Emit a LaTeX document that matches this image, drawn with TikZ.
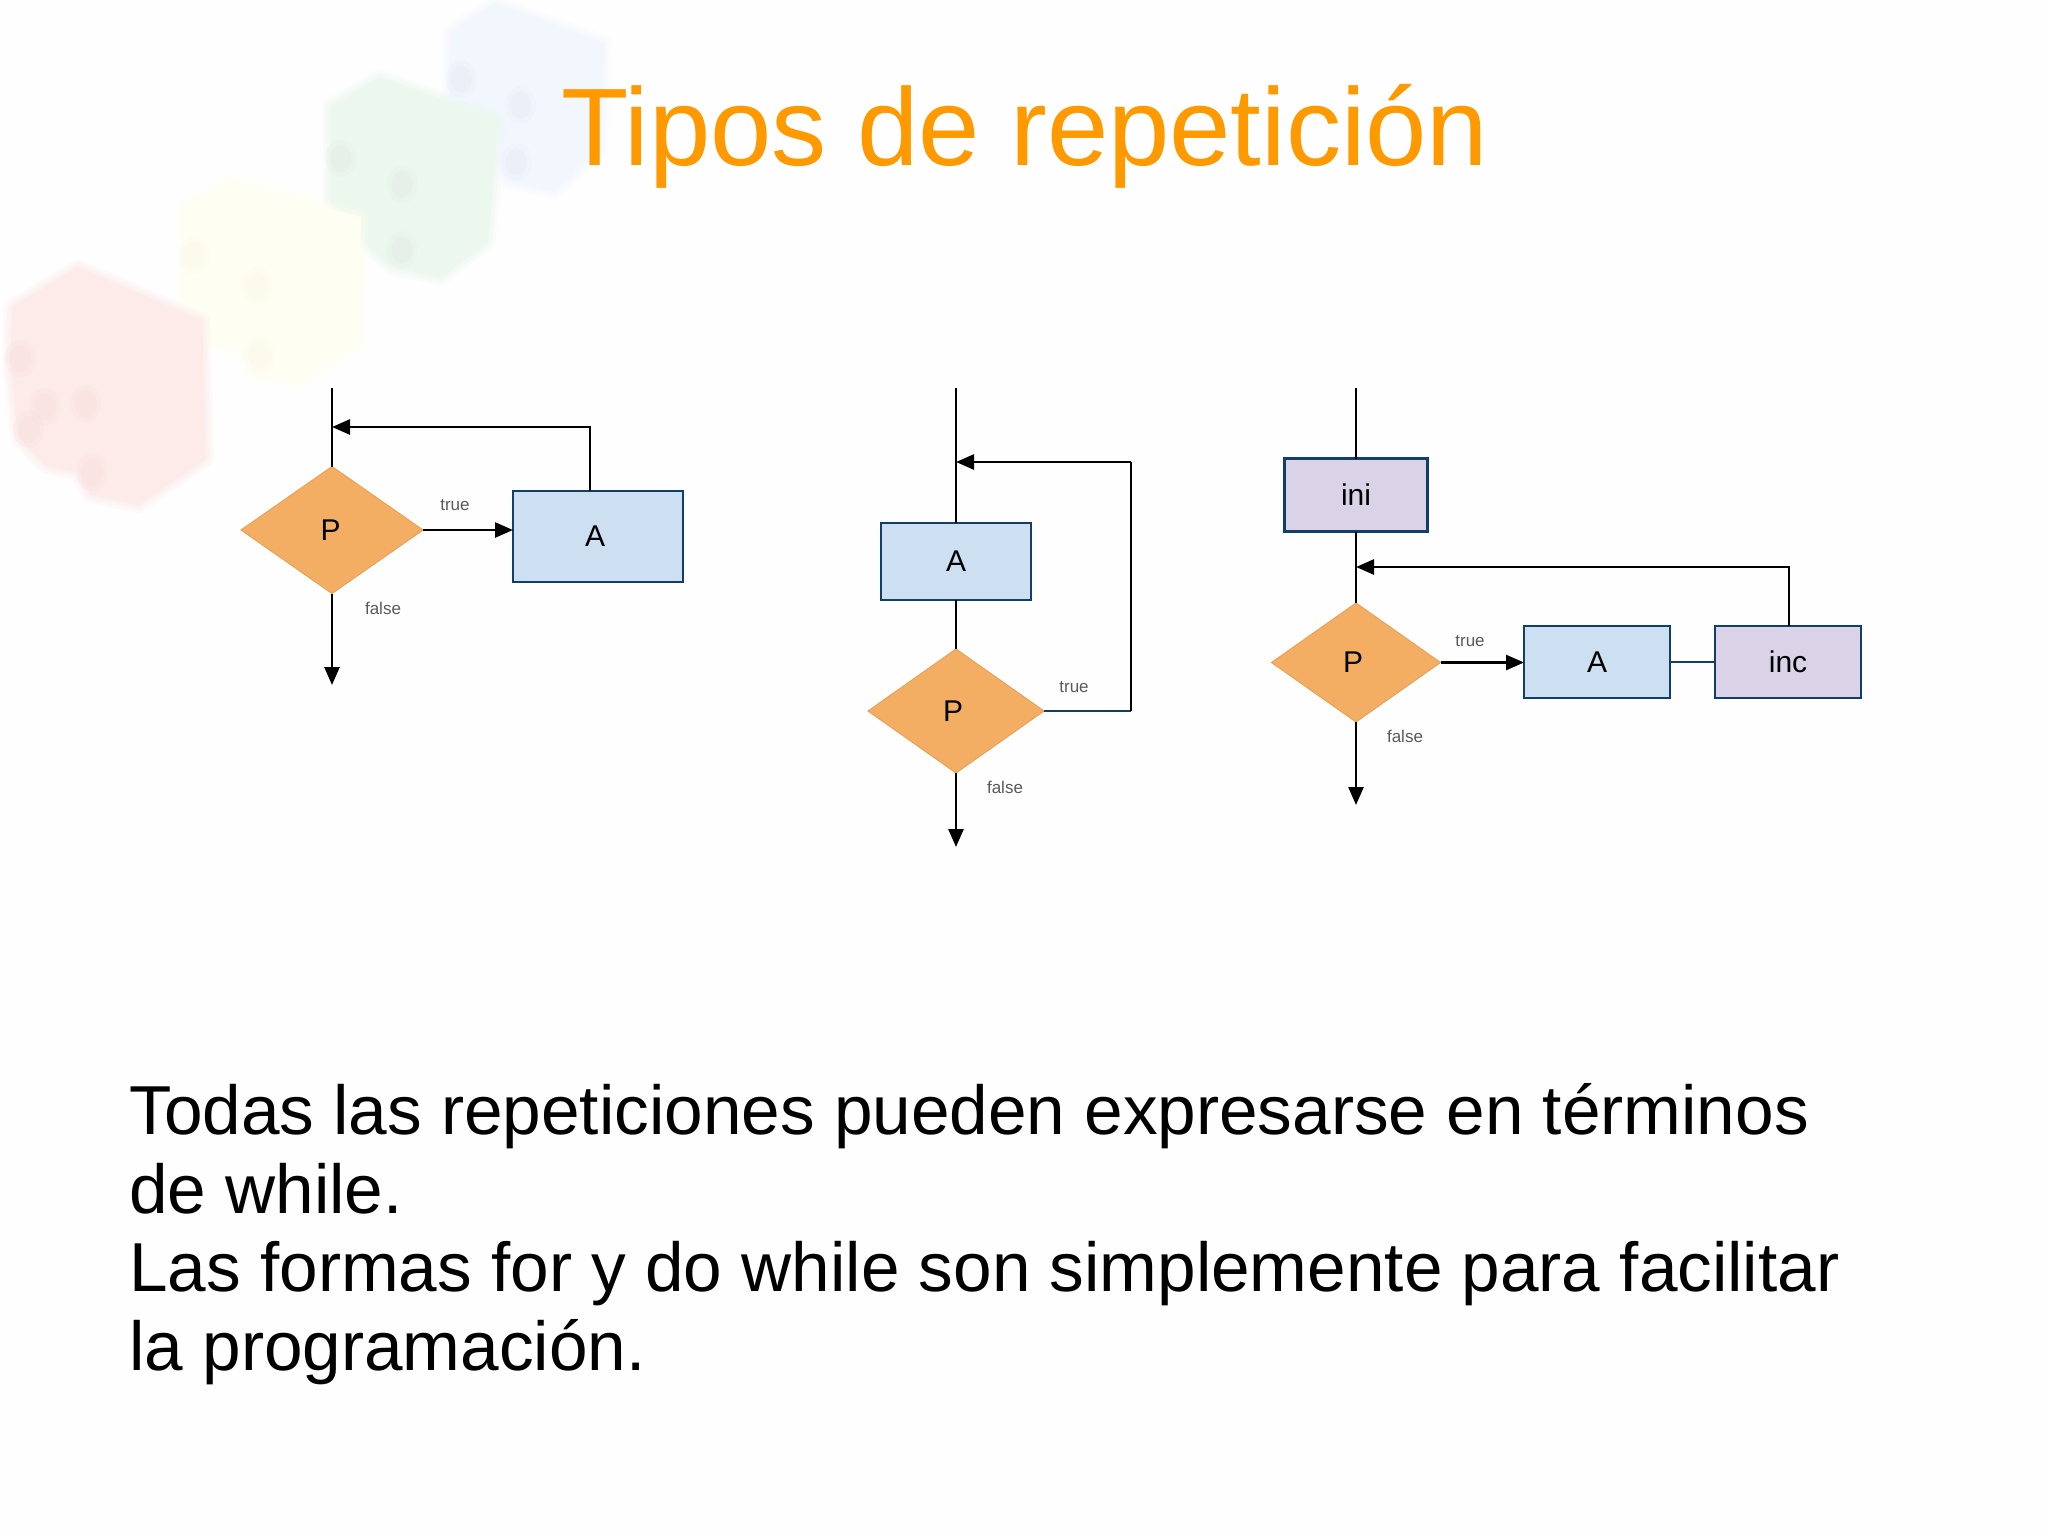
\documentclass[tikz,border=0pt]{standalone}
\usepackage{fontspec}
\setmainfont{Liberation Sans}
\usetikzlibrary{shapes.geometric,arrows.meta,calc}
\definecolor{pagebg}{HTML}{FEFEFE}
\definecolor{titleor}{HTML}{FF9900}
\definecolor{dfill}{HTML}{F4AE63}
\definecolor{dline}{HTML}{E9A257}
\definecolor{bfill}{HTML}{CDE0F2}
\definecolor{pfill}{HTML}{DAD2E6}
\definecolor{bline}{HTML}{123F68}
\definecolor{smallgr}{HTML}{5A5A5A}
\definecolor{redb}{HTML}{FCEBE9}\definecolor{reds}{HTML}{F7DFDE}
\definecolor{yelb}{HTML}{FFFEF2}\definecolor{yels}{HTML}{FAF8EA}
\definecolor{grnb}{HTML}{ECF7EE}\definecolor{grns}{HTML}{E2ECE5}
\definecolor{blub}{HTML}{F2F6FD}\definecolor{blus}{HTML}{E9EBF4}
\newcommand{\softpoly}[2]{%
  \foreach \lw in {8,5,3,1}{\draw[#1,line width=\lw pt,line join=round,opacity=.22] #2;}
  \fill[#1] #2;}
\newcommand{\studs}[2]{\foreach \sx/\sy in {#2}{\fill[#1,opacity=.4] (\sx,\sy) ellipse [x radius=26,y radius=40];\fill[#1,opacity=.25] (\sx,\sy) ellipse [x radius=38,y radius=54];}}
\tikzset{
  decis/.style={shape=diamond,draw=dline,fill=dfill,line width=.5pt,inner sep=0pt,outer sep=0pt,font=\fontsize{15}{15}\selectfont},
  abox/.style={shape=rectangle,draw=bline,fill=bfill,line width=1.4pt,inner sep=0pt,outer sep=0pt,font=\fontsize{15}{15}\selectfont},
  ibox/.style={abox,fill=pfill},
  flow/.style={draw=black,line width=1.3pt},
  flowtip/.style={flow,-{Triangle[length=9pt,width=7.5pt]}},
  plainlink/.style={draw=bline,line width=1.3pt},
  small/.style={text=smallgr,inner sep=0pt,font=\fontsize{8.5}{8.5}\selectfont},
}
\begin{document}
\begin{tikzpicture}[x=0.5pt,y=-0.5pt]
\path[fill=pagebg,use as bounding box] (0,0) rectangle (2048,1536);
% faded bricks
\begin{scope}[x=0.5pt/2.45,y=-0.5pt/2.9]
\softpoly{blub}{(1105,90) -- (1215,10) -- (1480,125) -- (1470,430) -- (1360,555) -- (1240,525) -- (1225,460) -- (1225,350) -- (1100,280) -- cycle}
\studs{blus}{1130/230,1275/305,1265/470}
\softpoly{grnb}{(810,310) -- (930,225) -- (1220,345) -- (1195,700) -- (1080,805) -- (960,775) -- (890,700) -- (810,590) -- cycle}
\studs{grns}{835/460,985/535,985/725}
\softpoly{yelb}{(455,600) -- (560,525) -- (885,630) -- (875,1000) -- (740,1105) -- (620,1090) -- (600,1020) -- (505,990) -- (455,880) -- cycle}
\studs{yels}{475/740,630/830,635/1030}
\softpoly{redb}{(30,890) -- (190,775) -- (495,930) -- (505,1330) -- (340,1465) -- (220,1435) -- (190,1370) -- (110,1350) -- (45,1270) -- (25,1050) -- cycle}
\studs{reds}{50/1040,210/1170,70/1245,110/1180,225/1370}
\end{scope}
% title
\node (title) [anchor=base west,inner sep=0pt,text=titleor,font=\fontsize{55.1}{55.1}\selectfont] at (561,165) {Tipos de repetición};
% first diagram
\coordinate (in1) at (332,388);
\coordinate (fb1) at (590,427);
\coordinate (out1) at (332,685);
\node (p1) [decis,minimum width=91pt,minimum height=63.5pt] at (332,530) {\kern-1.5pt P};
\node (a1) [abox,minimum width=85pt,minimum height=45.5pt] at (598,536.5) {\kern-3pt A};
\node (t1) [small] at (455,505) {true};
\node (f1) [small] at (383,608) {false};
\draw[flow] (in1) -- (p1.north);
\draw[flowtip] (fb1 |- a1.north) -- (fb1) -- (fb1 -| p1.north);
\draw[flowtip] (p1.east) -- (p1.east -| a1.west);
\draw[flowtip] (p1.south) -- (out1);
% second diagram
\coordinate (in2) at (956,388);
\coordinate (fb2) at (1131,462);
\coordinate (out2) at (956,847);
\node (a2) [abox,minimum width=75pt,minimum height=38.5pt] at (956,561.5) {A};
\node (p2) [decis,minimum width=88pt,minimum height=62pt] at (956,711) {\kern-3pt P};
\node (t2) [small] at (1074,687) {true};
\node (f2) [small] at (1005,787) {false};
\draw[flow] (in2) -- (a2.north);
\draw[flow] (a2.south) -- (p2.north);
\draw[plainlink] (p2.east) -- (p2.east -| fb2);
\draw[flow] (p2.east -| fb2) -- (fb2);
\draw[flowtip] (fb2) -- (fb2 -| in2);
\draw[flowtip] (p2.south) -- (out2);
% third diagram
\coordinate (in3) at (1356,388);
\coordinate (fb3) at (1789,567);
\coordinate (out3) at (1356,805);
\node (ini) [ibox,minimum width=71.5pt,minimum height=36.5pt] at (1356,495) {ini};
\node (p3) [decis,minimum width=84.5pt,minimum height=59.5pt] at (1356,662.5) {\kern-3pt P};
\node (a3) [abox,minimum width=73pt,minimum height=36pt] at (1597,662) {A};
\node (inc) [ibox,minimum width=73pt,minimum height=36pt] at (1788,662) {inc};
\node (t3) [small] at (1470,641) {true};
\node (f3) [small] at (1405,736) {false};
\draw[flow] (in3) -- (ini.north);
\draw[flow] (ini.south) -- (p3.north);
\draw[flowtip] (p3.east) -- (p3.east -| a3.west);
\draw[plainlink] (a3.east) -- (inc.west);
\draw[flowtip] (fb3 |- inc.north) -- (fb3) -- (fb3 -| ini.south);
\draw[flowtip] (p3.south) -- (out3);
% body
\node (body) [anchor=base west,align=left,inner sep=0pt,text=black,font=\fontsize{34.65}{39.2}\selectfont] at (129,1370) {Todas las repeticiones pueden expresarse en términos\\de while.\\Las formas for y do while son simplemente para facilitar\\la programación.};
\end{tikzpicture}
\end{document}
